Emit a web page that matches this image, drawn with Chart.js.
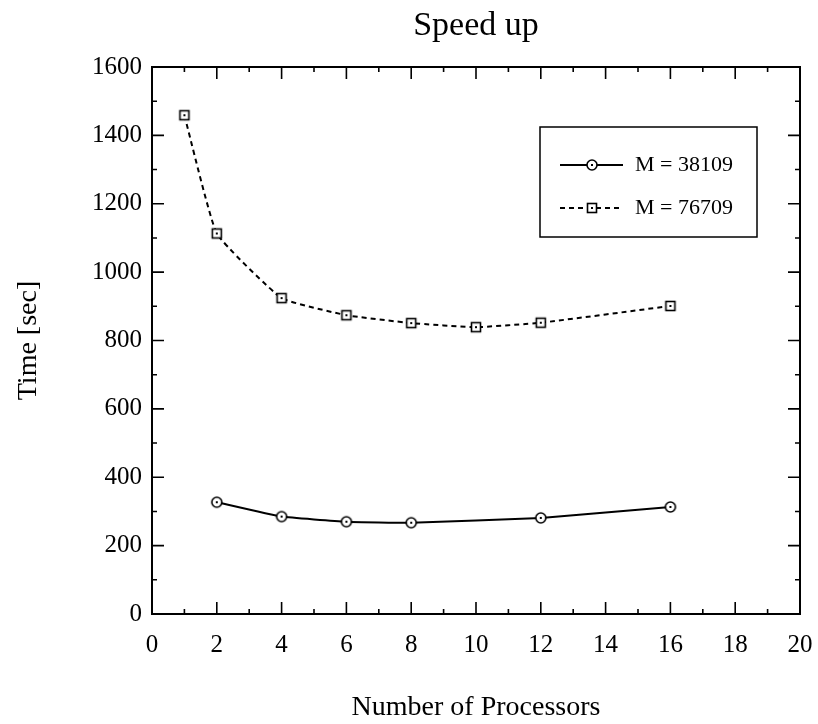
<!DOCTYPE html>
<html>
<head>
<meta charset="utf-8">
<script src="https://cdn.jsdelivr.net/npm/chart.js@4/dist/chart.umd.min.js"></script>
<style>
  html, body { margin: 0; padding: 0; background: #fff; }
  #wrap { width: 818px; height: 724px; }
</style>
</head>
<body>
<div id="wrap"><canvas id="speedChart" width="818" height="724"></canvas></div>
<script>
// processors (x) and run times in seconds
var procsSmall = [2, 4, 6, 8, 12, 16];
var timeSmall = [327, 285, 270, 267, 281, 313];
var procsLarge = [1, 2, 4, 6, 8, 10, 12, 16];
var timeLarge = [1459, 1113, 924, 874, 851, 839, 852, 901];
var seriesLabels = ['M = 38109', 'M = 76709'];
var chartTitle = 'Speed up';
var xTicks = { min: 0, max: 20, step: 2, minor: 1 };
var yTicks = { min: 0, max: 1600, step: 200, minor: 100 };

var FONT = "'Liberation Serif', 'Times New Roman', serif";

function toPoints(xs, ys) {
    return xs.map(function(x, i) { return { x: x, y: ys[i] }; });
}

// little marker images: open circle / open square with a dot in the middle
function marker(kind) {
    var c = document.createElement('canvas');
    c.width = 14; c.height = 14;
    var g = c.getContext('2d');
    g.fillStyle = '#fff';
    g.strokeStyle = '#000';
    g.lineWidth = 1.6;
    if (kind === 'circle') {
        g.beginPath();
        g.arc(7, 7, 5, 0, Math.PI * 2);
        g.fill();
        g.stroke();
    } else {
        g.fillRect(2.5, 2.5, 9, 9);
        g.strokeRect(2.5, 2.5, 9, 9);
    }
    g.fillStyle = '#000';
    g.fillRect(6, 6, 2, 2);
    return c;
}
var circleMark = marker('circle');
var squareMark = marker('square');

// frame box with inward ticks on all four sides
var frameTicks = {
    id: 'frameTicks',
    afterDatasetsDraw: function(chart) {
        var ctx = chart.ctx, a = chart.chartArea;
        var xs = chart.scales.x, ys = chart.scales.y;
        ctx.save();
        ctx.strokeStyle = '#000';
        ctx.lineWidth = 2;
        ctx.strokeRect(a.left, a.top, a.right - a.left, a.bottom - a.top);
        ctx.lineWidth = 1.6;
        ctx.beginPath();
        for (var v = xTicks.min + xTicks.minor; v < xTicks.max; v += xTicks.minor) {
            var px = xs.getPixelForValue(v);
            var len = (v % xTicks.step === 0) ? 12 : 5;
            ctx.moveTo(px, a.bottom); ctx.lineTo(px, a.bottom - len);
            ctx.moveTo(px, a.top); ctx.lineTo(px, a.top + len);
        }
        for (var w = yTicks.min + yTicks.minor; w < yTicks.max; w += yTicks.minor) {
            var py = ys.getPixelForValue(w);
            var l2 = (w % yTicks.step === 0) ? 12 : 5;
            ctx.moveTo(a.left, py); ctx.lineTo(a.left + l2, py);
            ctx.moveTo(a.right, py); ctx.lineTo(a.right - l2, py);
        }
        ctx.stroke();
        ctx.restore();
    }
};

// title centred over the plot frame, not the whole canvas
var frameTitle = {
    id: 'frameTitle',
    afterDraw: function(chart) {
        var ctx = chart.ctx, a = chart.chartArea;
        ctx.save();
        ctx.fillStyle = '#000';
        ctx.font = '34px ' + FONT;
        ctx.textAlign = 'center';
        ctx.textBaseline = 'alphabetic';
        ctx.fillText(chartTitle, (a.left + a.right) / 2, 35);
        ctx.restore();
    }
};

// boxed legend like the original figure
var boxLegend = {
    id: 'boxLegend',
    afterDraw: function(chart) {
        var ctx = chart.ctx;
        var box = { x: 540, y: 127, w: 217, h: 110 };
        var rows = [165, 208];
        ctx.save();
        ctx.strokeStyle = '#000';
        ctx.lineWidth = 1.5;
        ctx.strokeRect(box.x, box.y, box.w, box.h);
        chart.data.datasets.forEach(function(ds, i) {
            var y = rows[i];
            ctx.lineWidth = ds.borderWidth;
            ctx.setLineDash(ds.borderDash || []);
            ctx.beginPath();
            ctx.moveTo(560, y);
            ctx.lineTo(623, y);
            ctx.stroke();
            ctx.setLineDash([]);
            ctx.drawImage(ds.pointStyle, 592 - 7, y - 7);
            ctx.fillStyle = '#000';
            ctx.font = '22px ' + FONT;
            ctx.textBaseline = 'middle';
            ctx.textAlign = 'left';
            ctx.fillText(ds.label, 635, y);
        });
        ctx.restore();
    }
};

var ctx = document.getElementById('speedChart').getContext('2d');
var myChart = new Chart(ctx, {
    type: 'line',
    data: {
        datasets: [{
            label: seriesLabels[0],
            data: toPoints(procsSmall, timeSmall),
            borderColor: '#000',
            borderWidth: 2,
            pointStyle: circleMark,
            tension: 0.12,
            fill: false
        }, {
            label: seriesLabels[1],
            data: toPoints(procsLarge, timeLarge),
            borderColor: '#000',
            borderWidth: 2,
            borderDash: [5, 4],
            pointStyle: squareMark,
            tension: 0.12,
            fill: false
        }]
    },
    options: {
        responsive: false,
        animation: false,
        layout: { padding: { left: 0, right: 0, top: 67, bottom: 0 } },
        plugins: {
            legend: { display: false },
            tooltip: { enabled: false },
            title: { display: false }
        },
        scales: {
            x: {
                type: 'linear',
                min: xTicks.min,
                max: xTicks.max,
                grid: { display: false, drawTicks: false },
                border: { display: false },
                ticks: {
                    stepSize: xTicks.step,
                    color: '#000',
                    padding: 16,
                    maxRotation: 0,
                    font: { family: FONT, size: 25 }
                },
                title: {
                    display: true,
                    text: 'Number of Processors',
                    color: '#000',
                    font: { family: FONT, size: 28 },
                    padding: { top: 0, bottom: 0 }
                },
                afterFit: function(scale) {
                    scale.height = 110;
                    scale.paddingRight = 18;
                }
            },
            y: {
                min: yTicks.min,
                max: yTicks.max,
                grid: { display: false, drawTicks: false },
                border: { display: false },
                ticks: {
                    stepSize: yTicks.step,
                    color: '#000',
                    padding: 10,
                    font: { family: FONT, size: 25 },
                    callback: function(value) {
                        return String(value);
                    }
                },
                title: {
                    display: true,
                    text: 'Time [sec]',
                    color: '#000',
                    font: { family: FONT, size: 28 },
                    padding: { top: 12, bottom: 0 }
                },
                afterFit: function(scale) {
                    scale.width = 152;
                    scale.paddingTop = 0;
                }
            }
        }
    },
    plugins: [frameTicks, frameTitle, boxLegend]
});
</script>
</body>
</html>
